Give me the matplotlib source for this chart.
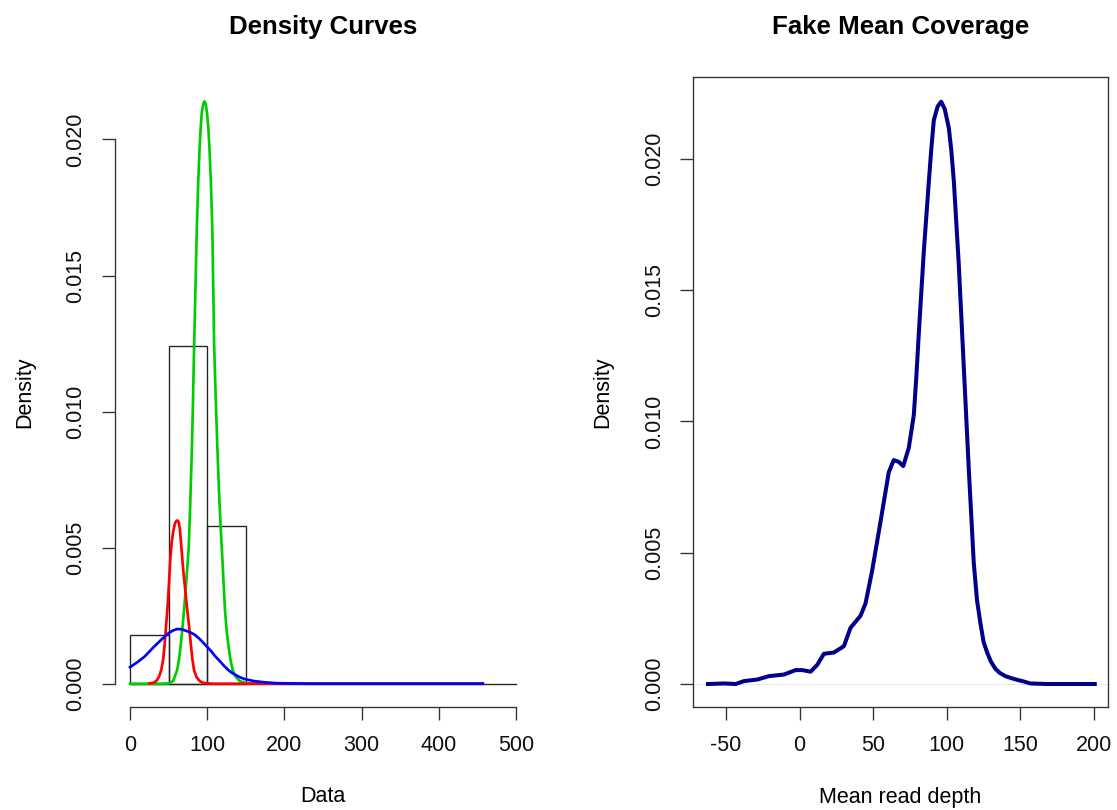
import numpy as np
import matplotlib
matplotlib.use("Agg")
import matplotlib.pyplot as plt

plt.rcParams['font.family'] = ['Liberation Sans', 'DejaVu Sans']
plt.rcParams['axes.unicode_minus'] = False

# ---- left panel: histogram + three density curves ----
bin_edges = [0, 50, 100, 150]
bin_density = [0.0018, 0.0124, 0.0058]

green_x = [0, 40, 50, 56, 61, 63.5, 66, 68, 70, 73, 76, 78, 80, 81.5, 83, 84.8,
           86.5, 88.3, 90, 91.7, 93, 94.8, 96.5, 98.2, 100, 101.5, 103, 104.8,
           106.6, 107.8, 109, 111, 113, 115.2, 117.5, 119.6, 123, 125, 127, 130,
           133, 137, 142, 150, 160, 457]
green_y = [0, 0, 0.00001, 0.0001, 0.0005, 0.0009, 0.0015, 0.0021, 0.0027, 0.0038,
           0.0050, 0.0066, 0.0085, 0.0103, 0.0124, 0.0146, 0.0167, 0.0184, 0.0196,
           0.0205, 0.0210, 0.0213, 0.0214, 0.0213, 0.0209, 0.0204, 0.0196, 0.0184,
           0.0167, 0.0146, 0.0124, 0.0105, 0.0088, 0.0071, 0.0057, 0.0046, 0.0027,
           0.0020, 0.0015, 0.0009, 0.0005, 0.00025, 0.0001, 0.00002, 0, 0]

red_x = [25, 30, 34, 37.5, 40.5, 43, 45, 48.3, 50.5, 52.2, 54, 56, 58.3, 60, 61.5,
         63, 64.5, 66, 67.7, 69.5, 71, 74.2, 76.5, 78.6, 80.8, 82.9, 86, 90, 95,
         100, 110, 457]
red_y = [0.00001, 0.00003, 0.0001, 0.00025, 0.00051, 0.0009, 0.0015, 0.0027, 0.0037,
         0.0046, 0.0052, 0.0056, 0.0059, 0.00598, 0.0060, 0.00595, 0.0057, 0.0052,
         0.0046, 0.0040, 0.0036, 0.0027, 0.0021, 0.0015, 0.0009, 0.00051, 0.00025,
         0.0001, 0.00003, 0.00001, 0, 0]

blue_x = [0, 10, 19, 30, 40.6, 50, 56, 61.3, 67, 72, 78, 83.8, 90, 95, 100, 105.3,
          110, 116, 121, 127, 132, 138, 143, 148.6, 160, 174.5, 190, 210, 230, 457]
blue_y = [0.00061, 0.0008, 0.0010, 0.00133, 0.00162, 0.00186, 0.00196, 0.00201,
          0.002, 0.00195, 0.00189, 0.0018, 0.00165, 0.0015, 0.00135, 0.00119,
          0.00102, 0.00084, 0.00068, 0.00051, 0.0004, 0.0003, 0.00023, 0.00017,
          0.0001, 0.00005, 0.00002, 0.00001, 0, 0]

left_xticks = [0, 100, 200, 300, 400, 500]
left_yticks = [0.000, 0.005, 0.010, 0.015, 0.020]

# ---- right panel: mean coverage density ----
cov_x = [-62.2, -51.4, -43.4, -37.8, -28.7, -20.8, -10.6, -2.7, 1.8, 7.5, 12.0,
         16.5, 23.3, 30.1, 34.6, 41.4, 44.8, 49.3, 55.0, 60.6, 64.0, 67.4, 70.4,
         74.2, 77.6, 79.3, 81.0, 84.4, 87.8, 89.5, 91.2, 93.8, 96.2, 98.6, 101.4,
         103.1, 104.8, 108.1, 111.5, 114.9, 118.3, 120.5, 122.9, 125.0, 127.4,
         130.0, 133.0, 136.0, 139.8, 144.0, 147.7, 152.0, 156.8, 168.1, 200.5]
cov_y = [0.0, 0.00002, 0.0, 0.00011, 0.00017, 0.0003, 0.00036, 0.00053, 0.00053,
         0.00047, 0.00073, 0.00115, 0.0012, 0.00144, 0.00214, 0.0026, 0.00307,
         0.00432, 0.00619, 0.00807, 0.00853, 0.00846, 0.0083, 0.009, 0.01025,
         0.0117, 0.01337, 0.01649, 0.01914, 0.0204, 0.02148, 0.0220, 0.02218,
         0.0219, 0.02117, 0.0203, 0.01914, 0.01602, 0.01212, 0.00822, 0.00463,
         0.0032, 0.00229, 0.0016, 0.0012, 0.00085, 0.00058, 0.00042, 0.0003,
         0.00022, 0.00016, 0.0001, 0.00002, 0.0, 0.0]

right_xticks = [-50, 0, 50, 100, 150, 200]
right_yticks = [0.000, 0.005, 0.010, 0.015, 0.020]

W, H = 1117, 810
fig = plt.figure(figsize=(W / 100, H / 100), dpi=100)

ax1 = fig.add_axes([114.6 / W, (H - 707) / H, 416.8 / W, 629 / H])
ax2 = fig.add_axes([693 / W, (H - 707) / H, 415 / W, 630 / H])

axis_col = '#333333'
fs = 15.5

# left
widths = np.diff(bin_edges)
ax1.bar(bin_edges[:-1], bin_density, width=widths, align='edge', fill=False,
        edgecolor='#222222', linewidth=0.97)
ax1.plot([0, 500], [0, 0], color='#222222', linewidth=0.97)
ax1.plot(green_x, green_y, color='#00CD00', linewidth=1.94)
ax1.plot(red_x, red_y, color='#FF0000', linewidth=1.94)
ax1.plot(blue_x, blue_y, color='#0000FF', linewidth=1.94)
ax1.set_xlim(-20, 520)
ax1.set_ylim(-0.000856, 0.02226)
for s in ['top', 'right']:
    ax1.spines[s].set_visible(False)
ax1.spines['left'].set_bounds(0, 0.020)
ax1.spines['bottom'].set_bounds(0, 500)
ax1.set_xticks(left_xticks)
ax1.set_yticks(left_yticks)
ax1.set_yticklabels(['%.3f' % v for v in left_yticks])

# right
ax2.axhline(0, color='#dddddd', linewidth=0.5)
ax2.plot(cov_x, cov_y, color='#00008B', linewidth=2.9)
ax2.set_xlim(-72.4, 209.5)
ax2.set_ylim(-0.000876, 0.02312)
ax2.set_xticks(right_xticks)
ax2.set_yticks(right_yticks)
ax2.set_yticklabels(['%.3f' % v for v in right_yticks])

for ax in (ax1, ax2):
    for s in ax.spines.values():
        s.set_color(axis_col)
        s.set_linewidth(0.97)
    ax.tick_params(axis='both', direction='out', length=9.4, width=0.97,
                   color=axis_col, labelsize=fs, labelcolor='#111111')
    ax.tick_params(axis='x', pad=11)
    ax.tick_params(axis='y', pad=11)
    for lab in ax.get_yticklabels():
        lab.set_rotation(90)
        lab.set_va('center')

ax1.set_xlabel('Data', fontsize=fs, va='center')
ax1.xaxis.set_label_coords(0.5, (707 - 797) / 629)
ax1.set_ylabel('Density', fontsize=fs, va='center')
ax1.yaxis.set_label_coords((25 - 114.6) / 416.8, 0.5)
ax1.text(0.5, (707 - 27) / 629, 'Density Curves', transform=ax1.transAxes,
         ha='center', va='center', fontsize=18.6, fontweight='bold')

ax2.set_xlabel('Mean read depth', fontsize=fs, va='center')
ax2.xaxis.set_label_coords(0.5, (707 - 797) / 630)
ax2.set_ylabel('Density', fontsize=fs, va='center')
ax2.yaxis.set_label_coords((603 - 693) / 415, 0.5)
ax2.text(0.5, (707 - 27) / 630, 'Fake Mean Coverage', transform=ax2.transAxes,
         ha='center', va='center', fontsize=18.6, fontweight='bold')

fig.savefig('out.png', dpi=100)
